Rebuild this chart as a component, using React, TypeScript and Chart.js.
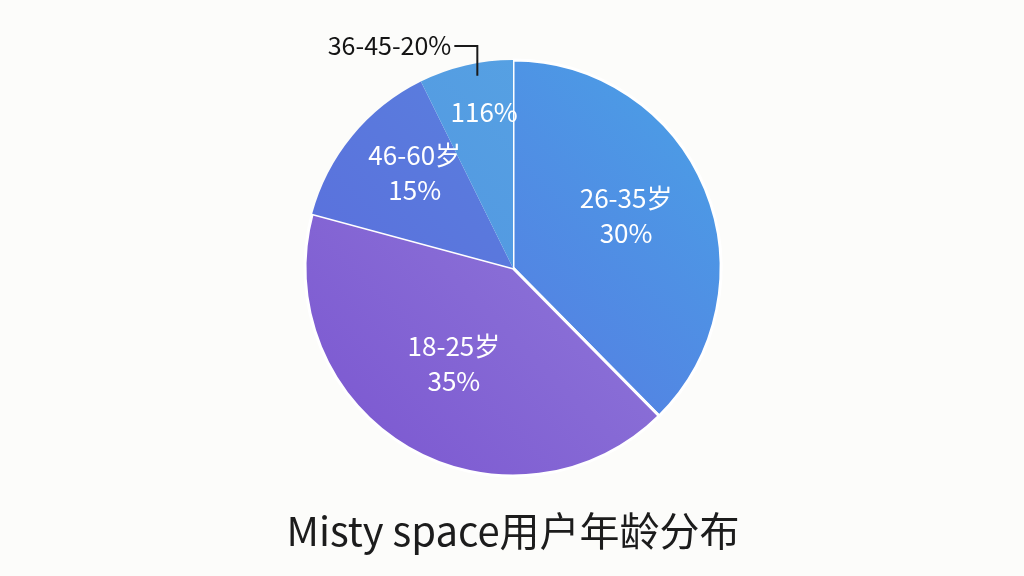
import React, { useEffect, useRef } from 'react';
import { Chart, registerables } from 'chart.js';

Chart.register(...registerables);

// Age groups, clockwise from 12 o'clock
const ageGroups = ['26-35岁', '18-25岁', '46-60岁', '36-45岁'];
// Slice sizes as drawn in the picture (share of the circle, %)
const sliceShares = [37.6, 41.6, 13.5, 7.3];
// Percent text printed inside each slice
const sliceLabels = ['30%', '35%', '15%', '116%'];
// Whether the group name is printed inside the slice
const showGroupName = [true, true, true, false];
// Callout text for the small slice
const calloutText = '36-45-20%';
const chartTitle = 'Misty space用户年龄分布';

// gradient stops per slice: [start, end]
const sliceColors: [string, string][] = [
  ['#5a6ae0', '#4aa2e6'],
  ['#7a55d0', '#9785dc'],
  ['#5a68dc', '#5a88de'],
  ['#4f8fdf', '#58a6e4'],
];

// label placement inside each slice: [fraction through the slice, fraction of radius]
const labelPlace: [number, number][] = [
  [0.48, 0.6],
  [0.51, 0.54],
  [0.6, 0.66],
  [0.6, 0.76],
];

const FONT = '"Noto Sans CJK SC", "Noto Sans", sans-serif';

const labelPlugin = {
  id: 'sliceLabels',
  afterDatasetsDraw(chart: Chart) {
    const { ctx } = chart;
    const meta = chart.getDatasetMeta(0);
    ctx.save();
    ctx.textAlign = 'center';
    ctx.textBaseline = 'middle';
    meta.data.forEach((arc: any, i: number) => {
      const { x, y, startAngle, endAngle, outerRadius } = arc.getProps(
        ['x', 'y', 'startAngle', 'endAngle', 'outerRadius'],
        true
      );
      const [af, rf] = labelPlace[i];
      const ang = startAngle + (endAngle - startAngle) * af;
      const cx = x + Math.cos(ang) * outerRadius * rf;
      const cy = y + Math.sin(ang) * outerRadius * rf;
      ctx.fillStyle = '#ffffff';
      ctx.font = `26px ${FONT}`;
      if (showGroupName[i]) {
        ctx.fillText(ageGroups[i], cx, cy - 17);
        ctx.fillText(sliceLabels[i], cx, cy + 18);
      } else {
        ctx.fillText(sliceLabels[i], cx, cy);
      }
      if (i === 3) {
        // callout line from inside the slice up and to the left
        const ca = startAngle + (endAngle - startAngle) * 0.6;
        const ex = x + Math.cos(ca) * outerRadius * 0.94;
        const ey = y + Math.sin(ca) * outerRadius * 0.94;
        const topY = y - outerRadius - 14;
        ctx.strokeStyle = '#1a1a1a';
        ctx.lineWidth = 2;
        ctx.beginPath();
        ctx.moveTo(ex, ey);
        ctx.lineTo(ex, topY);
        ctx.lineTo(ex - 23, topY);
        ctx.stroke();
        ctx.fillStyle = '#141414';
        ctx.font = `25px ${FONT}`;
        ctx.textAlign = 'right';
        ctx.fillText(calloutText, ex - 26, topY - 1);
        ctx.textAlign = 'center';
      }
    });
    ctx.restore();
  },
};

const AgePieChart: React.FC = () => {
  const chartRef = useRef<HTMLCanvasElement>(null);
  const chartInstance = useRef<Chart | null>(null);

  useEffect(() => {
    if (!chartRef.current) return;
    if (chartInstance.current) chartInstance.current.destroy();
    const ctx = chartRef.current.getContext('2d');
    if (!ctx) return;

    chartInstance.current = new Chart(ctx, {
      type: 'pie',
      data: {
        labels: ageGroups,
        datasets: [
          {
            data: sliceShares,
            radius: 208,
            borderColor: '#ffffff',
            borderWidth: [3, 3, 0, 0],
            backgroundColor: (context: any) => {
              const chart = context.chart;
              const area = chart.chartArea;
              if (!area) return sliceColors[context.dataIndex][0];
              const cx = (area.left + area.right) / 2;
              const cy = (area.top + area.bottom) / 2;
              const r = 208;
              const g = chart.ctx.createLinearGradient(cx - r, cy + r, cx + r, cy - r);
              const [a, b] = sliceColors[context.dataIndex];
              g.addColorStop(0, a);
              g.addColorStop(1, b);
              return g;
            },
          },
        ],
      },
      options: {
        responsive: false,
        animation: false,
        layout: { padding: { left: 2, right: 0, top: 29, bottom: 0 } },
        plugins: {
          legend: { display: false },
          tooltip: { enabled: false },
          title: {
            display: true,
            position: 'bottom',
            text: chartTitle,
            color: '#1c1c1c',
            font: { family: FONT, size: 40, weight: 'normal', lineHeight: 1.2 },
            padding: { top: 0, bottom: 21 },
          },
        },
      },
      plugins: [labelPlugin],
    });

    return () => {
      if (chartInstance.current) {
        chartInstance.current.destroy();
        chartInstance.current = null;
      }
    };
  }, []);

  return <canvas ref={chartRef} width={1024} height={576} />;
};

export default function App() {
  return (
    <div
      style={{
        position: 'absolute',
        left: 0,
        top: 0,
        width: 1024,
        height: 576,
        background: '#fcfcfa',
      }}
    >
      <AgePieChart />
    </div>
  );
}
